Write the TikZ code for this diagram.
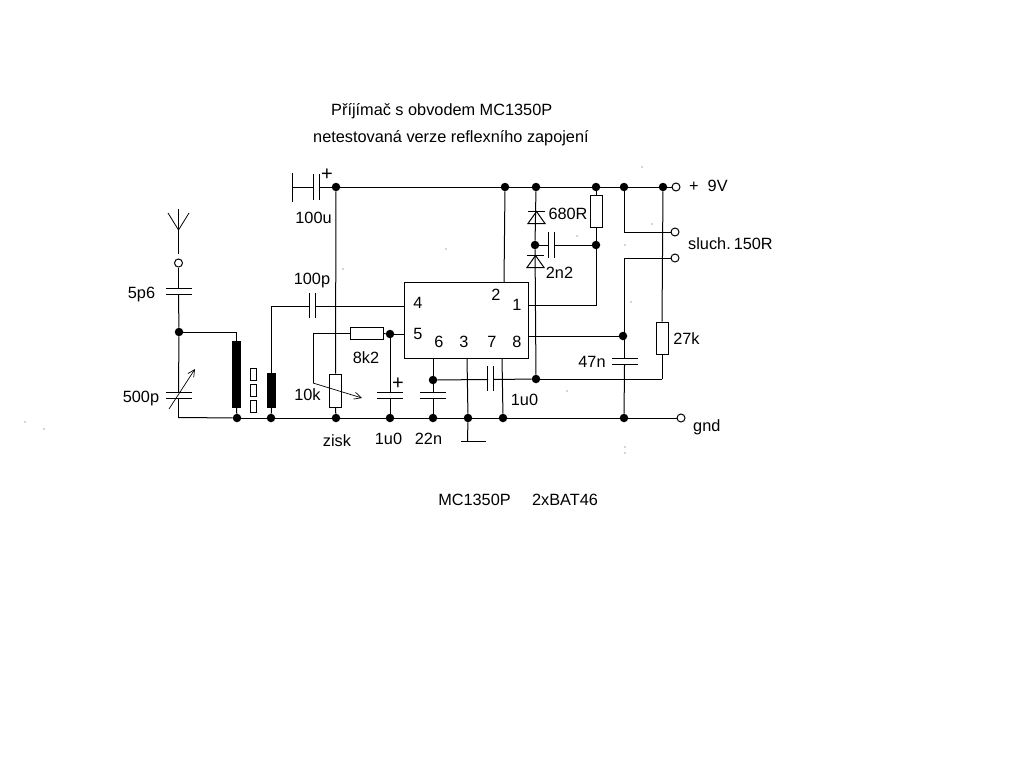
\documentclass[tikz,border=0pt]{standalone}
\usepackage{fontspec}
\setmainfont{Liberation Sans}
\usetikzlibrary{arrows.meta}
\tikzset{
  wire/.style={draw=black,line width=1pt},
  plate/.style={draw=black,line width=1pt},
  dot/.style={circle,fill=black,draw=none,minimum size=8.5pt,inner sep=0pt},
  term/.style={circle,draw=black,fill=white,line width=1pt,minimum size=8pt,inner sep=0pt},
  res/.style={rectangle,draw=black,fill=white,line width=1pt,inner sep=0pt},
  coil/.style={rectangle,fill=black,draw=none,inner sep=0pt},
  core/.style={rectangle,draw=black,fill=white,line width=.9pt,inner sep=0pt,minimum width=6.5pt,minimum height=12.5pt},
  ic/.style={rectangle,draw=black,line width=1pt,inner sep=0pt,minimum width=124pt,minimum height=76pt},
  lbl/.style={anchor=base,inner sep=0pt,font=\fontsize{16.3}{18}\selectfont,text=black},
  pin/.style={lbl},
  plus/.style={anchor=base,inner sep=0pt,font=\fontsize{20}{20}\selectfont,text=black},
  arrowline/.style={draw=black,line width=.7pt,-{Straight Barb[length=7pt,width=7pt]}},
  speck/.style={fill=black!70,draw=none}
}
\begin{document}
\begin{tikzpicture}[x=1pt,y=-1pt]
\useasboundingbox[fill=white] (0,0) rectangle (1024,768);

% IC
\node[ic] (ic) at (466,320) {};
\coordinate (p4) at (404,306);
\coordinate (p5) at (404,334);
\coordinate (p1) at (528,305);
\coordinate (p8) at (528,336);
\coordinate (p2) at (504,282);
\coordinate (p6) at (433,358);
\coordinate (p3) at (467,358);
\coordinate (p7) at (502,358);

% junction dots
\node[dot] (vcc1) at (336,187) {};
\node[dot] (vcc2) at (505,187) {};
\node[dot] (vcc3) at (536,187) {};
\node[dot] (vcc4) at (596,187) {};
\node[dot] (vcc5) at (624,187) {};
\node[dot] (vcc6) at (663,187) {};
\node[dot] (gnd1) at (237,418) {};
\node[dot] (gnd2) at (271,418) {};
\node[dot] (gnd3) at (336,418) {};
\node[dot] (gnd4) at (390,418) {};
\node[dot] (gnd5) at (433,418) {};
\node[dot] (gnd6) at (468,418) {};
\node[dot] (gnd7) at (503,418) {};
\node[dot] (gnd8) at (624,418) {};
\node[dot] (tune) at (179,332) {};
\node[dot] (n5) at (390,334) {};
\node[dot] (n6) at (433,380) {};
\node[dot] (nd) at (536,379) {};
\node[dot] (nm) at (535,245) {};
\node[dot] (nr) at (596,245) {};
\node[dot] (n8) at (623,336) {};

% terminals
\node[term] (tant) at (178.5,263) {};
\node[term] (tvcc) at (676,187) {};
\node[term] (ths1) at (675,232) {};
\node[term] (ths2) at (675,258) {};
\node[term] (tgnd) at (681,418) {};

% resistors
\node[res,minimum width=12pt,minimum height=33pt] (r10k) at (335.5,390.5) {};
\node[res,minimum width=33pt,minimum height=12pt] (r8k2) at (366.5,333.5) {};
\node[res,minimum width=12pt,minimum height=32pt] (r680) at (596,211) {};
\node[res,minimum width=12pt,minimum height=32pt] (r27k) at (662,338) {};

% coils and core
\node[coil,minimum width=9pt,minimum height=67pt] (l1) at (236.5,374.5) {};
\node[coil,minimum width=9pt,minimum height=35pt] (l2) at (271.5,390.5) {};
\node[core] (k1) at (253.5,374.5) {};
\node[core] (k2) at (253.5,390.5) {};
\node[core] (k3) at (253.5,406.5) {};

% antenna
\coordinate (aTop) at (178.5,209);
\coordinate (aJ) at (178.5,230);
\coordinate (aEnd) at (178.5,254);
\coordinate (aL) at (168,213);
\coordinate (aR) at (189,213);
\draw[wire] (aTop) -- (aEnd);
\draw[wire,line width=.8pt] (aL) -- (aJ) -- (aR);

% 5p6
\coordinate (c1a) at (178.5,288);
\coordinate (c1b) at (178.5,295);
\draw[wire] (tant) -- (c1a);
\draw[wire] (c1b) -- (tune);
\draw[plate] (166,288.5) -- (192,288.5);
\draw[plate] (166,294.5) -- (192,294.5);

% 500p variable
\coordinate (c2a) at (178.5,392);
\coordinate (c2b) at (178.5,398);
\coordinate (gndL) at (178.5,417.5);
\draw[wire] (tune) -- (c2a);
\draw[wire] (c2b) -- (gndL);
\draw[plate] (166,392.5) -- (192,392.5);
\draw[plate] (166,398.5) -- (192,398.5);
\coordinate (vaS) at (169,409);
\coordinate (vaE) at (195,369);
\draw[arrowline] (vaS) -- (vaE);

% ground rail
\draw[wire] (gndL) -- (gnd1);
\draw[wire] (gnd1) -- (gnd2);
\draw[wire] (gnd2) -- (gnd3);
\draw[wire] (gnd3) -- (gnd4);
\draw[wire] (gnd4) -- (gnd5);
\draw[wire] (gnd5) -- (gnd6);
\draw[wire] (gnd6) -- (gnd7);
\draw[wire] (gnd7) -- (gnd8);
\draw[wire] (gnd8) -- (tgnd);

% vcc rail
\coordinate (c3a) at (320,187);
\coordinate (c3b) at (313,187);
\coordinate (c3e) at (293,187);
\draw[wire] (c3e) -- (c3b);
\draw[wire] (c3a) -- (vcc1);
\draw[plate] (313.5,174) -- (313.5,200);
\draw[plate] (319.5,174) -- (319.5,200);
\draw[plate] (292.5,173) -- (292.5,202);
\draw[wire] (vcc1) -- (vcc2);
\draw[wire] (vcc2) -- (vcc3);
\draw[wire] (vcc3) -- (vcc4);
\draw[wire] (vcc4) -- (vcc5);
\draw[wire] (vcc5) -- (vcc6);
\draw[wire] (vcc6) -- (tvcc);

% coil wiring
\draw[wire] (tune) -| (l1.north);
\draw[wire] (l1.south) -- (gnd1);
\draw[wire] (l2.south) -- (gnd2);
\coordinate (c4a) at (310,306);
\coordinate (c4b) at (315,306);
\draw[wire] (l2.north) |- (c4a);
\draw[wire] (c4b) -- (p4);
\draw[plate] (309.5,293) -- (309.5,318);
\draw[plate] (315.5,293) -- (315.5,318);

% pot and 8k2
\draw[wire] (vcc1) -- (r10k.north);
\draw[wire] (r10k.south) -- (gnd3);
\coordinate (wT) at (313,333.5);
\coordinate (wB) at (313,383);
\coordinate (wA) at (362,398);
\draw[wire,line width=.8pt] (r8k2.west) -- (wT) -- (wB);
\draw[arrowline] (wB) -- (wA);
\draw[wire] (r8k2.east) -- (n5);
\draw[wire] (n5) -- (p5);

% 1u0 at pin 5
\coordinate (c5a) at (390,392);
\coordinate (c5b) at (390,398);
\draw[wire] (n5) -- (c5a);
\draw[wire] (c5b) -- (gnd4);
\draw[plate] (377,392.5) -- (403,392.5);
\draw[plate] (377,398.5) -- (403,398.5);

% 22n
\coordinate (c6a) at (433,392);
\coordinate (c6b) at (433,398);
\draw[wire] (p6) -- (n6);
\draw[wire] (n6) -- (c6a);
\draw[wire] (c6b) -- (gnd5);
\draw[plate] (420,392.5) -- (446,392.5);
\draw[plate] (420,398.5) -- (446,398.5);

% pin 3 + ground symbol
\coordinate (gs) at (467.5,441);
\draw[wire] (p3) -- (gnd6);
\draw[wire] (gnd6) -- (gs);
\draw[plate] (461,441.5) -- (486,441.5);

% pin 7
\draw[wire] (p7) -- (gnd7);

% 1u0 horizontal
\coordinate (c7a) at (488,379.5);
\coordinate (c7b) at (493,379.5);
\draw[wire] (n6) -- (c7a);
\draw[wire] (c7b) -- (nd);
\draw[plate] (487.5,366) -- (487.5,391);
\draw[plate] (493.5,366) -- (493.5,391);
\coordinate (rb) at (662,379);
\draw[wire] (nd) -- (rb);
\draw[wire] (rb) -- (r27k.south);
\draw[wire] (r27k.north) -- (vcc6);

% pin 2
\draw[wire] (vcc2) -- (p2);

% pin 1
\draw[wire] (p1) -| (nr);
\draw[wire] (nr) -- (r680.south);
\draw[wire] (r680.north) -- (vcc4);

% diodes
\draw[wire] (vcc3) -- (nm);
\draw[wire] (nm) -- (nd);
\draw[plate] (528,211.5) -- (545,211.5);
\draw[plate] (536.5,211.5) -- (528,223.5) -- (545,223.5) -- cycle;
\draw[plate] (527,255.5) -- (544,255.5);
\draw[plate] (535.5,255.5) -- (527,267.5) -- (544,267.5) -- cycle;

% 2n2
\coordinate (c8a) at (548,245);
\coordinate (c8b) at (554,245);
\draw[wire] (nm) -- (c8a);
\draw[wire] (c8b) -- (nr);
\draw[plate] (548.5,232) -- (548.5,258);
\draw[plate] (554.5,232) -- (554.5,258);

% pin 8, 47n
\draw[wire] (p8) -- (n8);
\coordinate (c9a) at (624.5,358);
\coordinate (c9b) at (624.5,365);
\draw[wire] (ths2) -| (c9a);
\draw[wire] (c9b) -- (gnd8);
\draw[plate] (612,358.5) -- (638,358.5);
\draw[plate] (612,364.5) -- (638,364.5);

% headphones
\draw[wire] (vcc5) |- (ths1);

% texts
\node[lbl,anchor=base west] (tt1) at (331,115.5) {Příjímač s obvodem MC1350P};
\node[lbl,anchor=base west] (tt2) at (313,142.5) {netestovaná verze reflexního zapojení};
\node[lbl] (l5p6) at (141.5,298.5) {5p6};
\node[lbl] (l500) at (141,402.5) {500p};
\node[lbl] (l100u) at (313.5,223.5) {100u};
\node[lbl] (l100p) at (312,284.5) {100p};
\node[lbl] (l10k) at (307.5,400.5) {10k};
\node[lbl] (l8k2) at (366,363.5) {8k2};
\node[lbl] (lzisk) at (337,446) {zisk};
\node[lbl] (l1u0a) at (388.5,444.5) {1u0};
\node[lbl] (l22n) at (428.5,444.5) {22n};
\node[lbl] (l1u0b) at (524.5,405.5) {1u0};
\node[lbl] (l47n) at (592,367.5) {47n};
\node[lbl] (l27k) at (686.5,344.5) {27k};
\node[lbl] (l680) at (568,219.5) {680R};
\node[lbl] (l2n2) at (559.5,278.5) {2n2};
\node[lbl,anchor=base west] (l9v) at (689,191.5) {+\hspace{9pt}9V};
\node[lbl,anchor=base west] (lhs) at (688,249.5) {sluch.\hspace{3pt}150R};
\node[lbl,anchor=base west] (lgnd) at (693,431.5) {gnd};
\node[pin] (n4t) at (418,308.5) {4};
\node[pin] (n5t) at (418,339.5) {5};
\node[pin] (n6t) at (439,347.5) {6};
\node[pin] (n3t) at (464,347.5) {3};
\node[pin] (n7t) at (492,347.5) {7};
\node[pin] (n8t) at (517,347.5) {8};
\node[pin] (n2t) at (496,300.5) {2};
\node[pin] (n1t) at (517,310.5) {1};
\node[plus] (pl1) at (327,180) {+};
\node[plus] (pl2) at (398,389) {+};
\node[lbl] (bt1) at (474.5,505.5) {MC1350P};
\node[lbl] (bt2) at (565,505) {2xBAT46};

% stray specks of the original scan
\foreach \sx/\sy in {642/167,446/249,652/224,577/236,625/245,631/302,567/391,343/269,625/447,625/453,25/422,44/429}
  \fill[speck] (\sx,\sy) circle (.6pt);
\end{tikzpicture}
\end{document}
